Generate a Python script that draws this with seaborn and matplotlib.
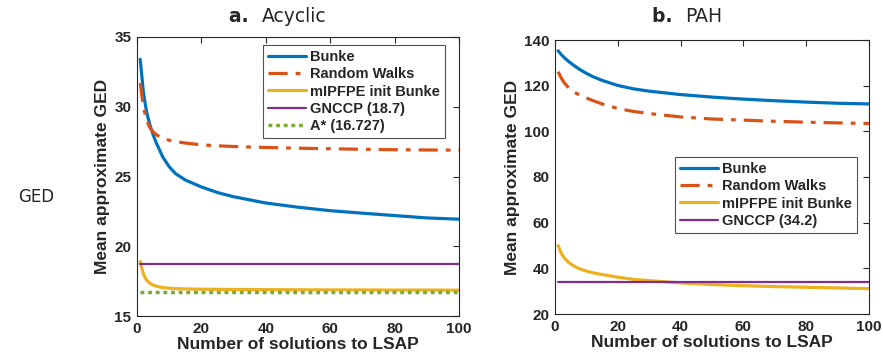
import numpy as np
import pandas as pd
import matplotlib
matplotlib.use("Agg")
import matplotlib.pyplot as plt
import seaborn as sns

# ---- data ----
x_pts = [1, 2, 3, 4, 5, 6, 7, 8, 10, 12, 15, 20, 25, 30, 40, 50, 60, 70, 80, 90, 100]

acyc_bunke = [33.4, 31.0, 29.6, 28.7, 28.0, 27.4, 26.9, 26.4, 25.7, 25.2, 24.75, 24.25, 23.85, 23.55, 23.1, 22.8, 22.55, 22.37, 22.2, 22.03, 21.94]
acyc_rw = [31.7, 30.0, 29.0, 28.5, 28.2, 28.0, 27.85, 27.75, 27.6, 27.5, 27.4, 27.27, 27.2, 27.15, 27.08, 27.03, 26.99, 26.95, 26.92, 26.9, 26.89]
acyc_mipfpe = [18.9, 18.0, 17.55, 17.35, 17.22, 17.14, 17.08, 17.04, 16.99, 16.96, 16.94, 16.92, 16.91, 16.9, 16.89, 16.88, 16.87, 16.87, 16.86, 16.86, 16.85]
acyc_gnccp = 18.7
acyc_astar = 16.727

pah_bunke = [135.3, 133.6, 132.2, 131.0, 129.9, 128.9, 127.9, 127.0, 125.4, 124.0, 122.3, 120.1, 118.6, 117.6, 116.1, 115.0, 114.1, 113.4, 112.8, 112.3, 112.0]
pah_rw = [126.1, 123.3, 121.2, 119.6, 118.3, 117.3, 116.5, 115.8, 114.6, 113.5, 112.0, 110.0, 108.7, 107.8, 106.3, 105.4, 104.9, 104.4, 104.0, 103.7, 103.4]
pah_mipfpe = [50.0, 46.6, 44.5, 43.0, 41.9, 41.0, 40.3, 39.7, 38.8, 38.1, 37.3, 36.1, 35.2, 34.6, 33.6, 32.9, 32.4, 32.0, 31.7, 31.4, 31.1]
pah_gnccp = 34.2

titles_bold = ["a.", "b."]
titles_rest = ["Acyclic", "PAH"]
xlabel = "Number of solutions to LSAP"
ylabel = "Mean approximate GED"

C_BUNKE = "#0072BD"
C_RW = "#D95319"
C_MIP = "#EDB120"
C_GN = "#7E2F8E"
C_AS = "#77AC30"

sns.set_theme(style="white")
plt.rcParams["font.family"] = ["Liberation Sans", "DejaVu Sans"]

fig = plt.figure(figsize=(8.83, 3.59), dpi=100)
W, H = 883, 359
ax1 = fig.add_axes([137 / W, 1 - 316 / H, (459 - 137) / W, (316 - 37) / H])
ax2 = fig.add_axes([555 / W, 1 - 314 / H, (869 - 555) / W, (314 - 40) / H])

def draw(ax, bunke, rw, mip, gn, gn_label, astar=None):
    sns.lineplot(x=x_pts, y=bunke, ax=ax, color=C_BUNKE, lw=2.3, label="Bunke")
    l = sns.lineplot(x=x_pts, y=rw, ax=ax, color=C_RW, lw=2.3, label="Random Walks")
    l.lines[-1].set_dashes([6, 2.5, 1.5, 2.5])
    sns.lineplot(x=x_pts, y=mip, ax=ax, color=C_MIP, lw=2.3, label="mIPFPE init Bunke")
    sns.lineplot(x=[1, 100], y=[gn, gn], ax=ax, color=C_GN, lw=1.6, label=gn_label)
    if astar is not None:
        l2 = sns.lineplot(x=[1, 100], y=[astar, astar], ax=ax, color=C_AS, lw=2.5,
                          label="A* (%g)" % astar)
        l2.lines[-1].set_dashes([1.1, 1.1])

draw(ax1, acyc_bunke, acyc_rw, acyc_mipfpe, acyc_gnccp, "GNCCP (%g)" % acyc_gnccp, acyc_astar)
draw(ax2, pah_bunke, pah_rw, pah_mipfpe, pah_gnccp, "GNCCP (%g)" % pah_gnccp)

ax1.set_ylim(15, 35)
ax1.set_yticks([15, 20, 25, 30, 35])
ax2.set_ylim(20, 140)
ax2.set_yticks([20, 40, 60, 80, 100, 120, 140])

for ax in (ax1, ax2):
    ax.set_xlim(0, 100)
    ax.set_xticks([0, 20, 40, 60, 80, 100])
    ax.tick_params(direction="in", top=True, right=True, length=4, width=0.8,
                   labelsize=11, pad=4, colors="#262626", labelcolor="#262626")
    for lab in ax.get_xticklabels() + ax.get_yticklabels():
        lab.set_fontweight("bold")
    for s in ax.spines.values():
        s.set_color("#262626")
        s.set_linewidth(0.8)
    ax.set_xlabel(xlabel, fontsize=12.5, fontweight="bold", color="#262626", labelpad=1)
    ax.set_ylabel(ylabel, fontsize=12.5, fontweight="bold", color="#262626", labelpad=3)
    ax.grid(False)

def title(cx, tb, tr):
    fig.text(cx, 1 - 17 / H, tb + "  ", fontsize=13.5, fontweight="bold",
             family="DejaVu Sans", ha="right", va="center")
    fig.text(cx, 1 - 17 / H, tr, fontsize=13.5, family="DejaVu Sans",
             ha="left", va="center")

title(262 / W, titles_bold[0], titles_rest[0])
title(685 / W, titles_bold[1], titles_rest[1])

fig.text(36 / W, 1 - 197 / H, "GED", fontsize=12, family="DejaVu Sans",
         ha="center", va="center")

leg_kw = dict(frameon=True, fancybox=False, handlelength=2.6,
              handletextpad=0.3, borderpad=0.35, labelspacing=0.22,
              borderaxespad=0.0, prop={"weight": "bold", "size": 10.5})
leg1 = ax1.legend(loc="upper left", bbox_to_anchor=((263 - 137) / 322, (316 - 45) / 279), **leg_kw)
leg2 = ax2.legend(loc="upper left", bbox_to_anchor=((675 - 555) / 314, (314 - 157) / 274), **leg_kw)
for leg in (leg1, leg2):
    leg.get_frame().set_edgecolor("#262626")
    leg.get_frame().set_linewidth(0.8)

fig.savefig("out.png", dpi=100)
